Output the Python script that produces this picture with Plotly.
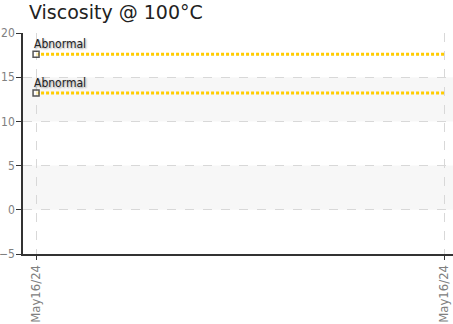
import plotly.graph_objects as go

title_text = "Viscosity @ 100°C"
categories = [0, 1]
tick_labels = ["May16/24", "May16/24"]
limit_upper = [17.6, 17.6]
limit_lower = [13.2, 13.2]
limit_names = ["Abnormal", "Abnormal"]
y_ticks = [-5, 0, 5, 10, 15, 20]
bands = [(0, 5), (10, 15)]

tick_font = dict(family="Liberation Sans Narrow, DejaVu Sans Condensed", size=13, color="#808080")

fig = go.Figure()

for vals, name in zip([limit_upper, limit_lower], limit_names):
    fig.add_trace(go.Scatter(
        x=categories, y=vals, mode="lines+markers",
        line=dict(color="#FFCC00", width=3, dash="3px,2px"),
        marker=dict(symbol="square", size=[6, 0], color="white",
                    line=dict(color="#111", width=1.5)),
        showlegend=False, hoverinfo="skip"))
    fig.add_annotation(x=categories[0], y=vals[0], text=name, showarrow=False,
                       xanchor="left", yanchor="bottom", xshift=-4, yshift=1,
                       font=dict(family="DejaVu Sans Condensed", size=12, color="#222",
                                 shadow="1px 1px 2px #999"))

for lo, hi in bands:
    fig.add_shape(type="rect", xref="paper", yref="y", x0=0, x1=1, y0=lo, y1=hi,
                  fillcolor="#f7f7f7", line=dict(width=0), layer="below")

fig.update_layout(
    width=453, height=324,
    margin=dict(l=23, r=0, t=33, b=70),
    paper_bgcolor="white", plot_bgcolor="white",
    title=dict(text=title_text, x=0, xref="paper", xanchor="left", y=0.962, yanchor="middle",
               font=dict(family="DejaVu Sans", size=19, color="#222"), pad=dict(l=6)),
    xaxis=dict(range=[-0.032, 1.022], tickvals=categories, ticktext=tick_labels,
               tickangle=-90, showgrid=True, gridcolor="#d8d8d8", griddash="dash", gridwidth=1,
               showline=True, linecolor="#333", linewidth=1.5, ticks="outside",
               ticklen=4, tickcolor="#333", zeroline=False, automargin=False,
               tickfont=tick_font),
    yaxis=dict(range=[-5, 20], tickvals=y_ticks, showgrid=True, gridcolor="#d8d8d8",
               griddash="dash", gridwidth=1, showline=True, linecolor="#333", linewidth=1.5,
               ticks="outside", ticklen=5, tickcolor="#333", zeroline=False, automargin=False,
               ticklabelstandoff=-1,
               tickfont=dict(family="Liberation Sans Narrow, DejaVu Sans Condensed", size=12, color="#808080")),
)

fig.write_html("out.html", config={"displayModeBar": False},
               post_script="document.body.style.margin='0';")
